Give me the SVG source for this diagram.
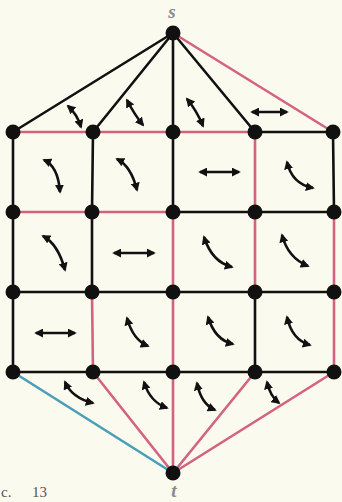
<svg xmlns="http://www.w3.org/2000/svg" width="342" height="502" viewBox="0 0 342 502">
<style>
.bk{stroke:#111;stroke-width:2.6;fill:none;stroke-linecap:round}
.pk{stroke:#d4637f;stroke-width:2.6;fill:none;stroke-linecap:round}
.bl{stroke:#4a9fb8;stroke-width:2.6;fill:none;stroke-linecap:round}
.ar{stroke:#111;stroke-width:2.6;fill:none;marker-start:url(#ah);marker-end:url(#ah)}
.nd{fill:#111}
.lb{font-family:"Liberation Serif",serif;font-style:italic;font-weight:bold;font-size:19px;fill:#8a8a8a;text-anchor:middle}
.cap{font-family:"Liberation Serif",serif;font-size:15px;fill:#555}
</style>
<defs>
<marker id="ah" viewBox="0 0 10 10" refX="8" refY="5" markerWidth="9" markerHeight="9" markerUnits="userSpaceOnUse" orient="auto-start-reverse">
<path d="M0,0 L10,5 L0,10 z" fill="#111"/>
</marker>
</defs>
<rect width="342" height="502" fill="#fafaee"/>
<g id="connectors">
<line class="bk" x1="173" y1="33" x2="13" y2="132"/>
<line class="bk" x1="173" y1="33" x2="93" y2="132"/>
<line class="bk" x1="173" y1="33" x2="173" y2="132"/>
<line class="bk" x1="173" y1="33" x2="255" y2="132"/>
<line class="pk" x1="173" y1="33" x2="333" y2="132"/>
<line class="pk" x1="13" y1="132" x2="93" y2="132"/>
<line class="pk" x1="93" y1="132" x2="173" y2="132"/>
<line class="pk" x1="173" y1="132" x2="255" y2="132"/>
<line class="bk" x1="255" y1="132" x2="333" y2="132"/>
<line class="pk" x1="13" y1="212" x2="92" y2="212"/>
<line class="pk" x1="92" y1="212" x2="173" y2="212"/>
<line class="bk" x1="173" y1="212" x2="255" y2="212"/>
<line class="bk" x1="255" y1="212" x2="334" y2="212"/>
<line class="bk" x1="13" y1="292" x2="92" y2="292"/>
<line class="bk" x1="92" y1="292" x2="173" y2="292"/>
<line class="bk" x1="173" y1="292" x2="255" y2="292"/>
<line class="bk" x1="255" y1="292" x2="334" y2="292"/>
<line class="bk" x1="13" y1="372" x2="93" y2="372"/>
<line class="bk" x1="93" y1="372" x2="173" y2="372"/>
<line class="bk" x1="173" y1="372" x2="255" y2="372"/>
<line class="bk" x1="255" y1="372" x2="334" y2="372"/>
<line class="bk" x1="13" y1="132" x2="13" y2="212"/>
<line class="bk" x1="13" y1="212" x2="13" y2="292"/>
<line class="bk" x1="13" y1="292" x2="13" y2="372"/>
<line class="bk" x1="93" y1="132" x2="92" y2="212"/>
<line class="bk" x1="92" y1="212" x2="92" y2="292"/>
<line class="pk" x1="92" y1="292" x2="93" y2="372"/>
<line class="bk" x1="173" y1="132" x2="173" y2="212"/>
<line class="pk" x1="173" y1="212" x2="173" y2="292"/>
<line class="pk" x1="173" y1="292" x2="173" y2="372"/>
<line class="pk" x1="255" y1="132" x2="255" y2="212"/>
<line class="pk" x1="255" y1="212" x2="255" y2="292"/>
<line class="bk" x1="255" y1="292" x2="255" y2="372"/>
<line class="bk" x1="333" y1="132" x2="334" y2="212"/>
<line class="pk" x1="334" y1="212" x2="334" y2="292"/>
<line class="pk" x1="334" y1="292" x2="334" y2="372"/>
<line class="bl" x1="13" y1="372" x2="173" y2="473"/>
<line class="pk" x1="93" y1="372" x2="173" y2="473"/>
<line class="pk" x1="173" y1="372" x2="173" y2="473"/>
<line class="pk" x1="255" y1="372" x2="173" y2="473"/>
<line class="pk" x1="334" y1="372" x2="173" y2="473"/>
</g>
<g id="arrows">
<path class="ar" d="M68,106 Q77,114 81,127"/>
<path class="ar" d="M127,100 Q134,114 143,125"/>
<path class="ar" d="M187,99 Q197,111 203,126"/>
<path class="ar" d="M252,112 L287,112"/>
<path class="ar" d="M44,160 Q58,166 60,192"/>
<path class="ar" d="M117,159 Q131,166 137,190"/>
<path class="ar" d="M200,172 L239,172"/>
<path class="ar" d="M287,162 Q292,184 313,188"/>
<path class="ar" d="M43,236 Q58,244 65,270"/>
<path class="ar" d="M114,253 L154,253"/>
<path class="ar" d="M204,237 Q212,262 232,267"/>
<path class="ar" d="M282,235 Q288,258 308,266"/>
<path class="ar" d="M36,333 L75,333"/>
<path class="ar" d="M127,318 Q133,340 148,346"/>
<path class="ar" d="M208,317 Q215,340 233,344"/>
<path class="ar" d="M287,317 Q292,340 310,345"/>
<path class="ar" d="M65,382 Q72,398 93,403"/>
<path class="ar" d="M144,382 Q150,402 167,408"/>
<path class="ar" d="M197,383 Q201,404 215,410"/>
<path class="ar" d="M267,382 Q270,396 279,403"/>
</g>
<g id="node-s"><circle class="nd" cx="173" cy="33" r="7.5"/><text class="lb" x="172" y="18">s</text></g>
<g id="node-t"><circle class="nd" cx="173" cy="473" r="7.5"/><text class="lb" x="174" y="497">t</text></g>
<g id="n-0-0"><circle class="nd" cx="13" cy="132" r="7.5"/></g>
<g id="n-0-1"><circle class="nd" cx="93" cy="132" r="7.5"/></g>
<g id="n-0-2"><circle class="nd" cx="173" cy="132" r="7.5"/></g>
<g id="n-0-3"><circle class="nd" cx="255" cy="132" r="7.5"/></g>
<g id="n-0-4"><circle class="nd" cx="333" cy="132" r="7.5"/></g>
<g id="n-1-0"><circle class="nd" cx="13" cy="212" r="7.5"/></g>
<g id="n-1-1"><circle class="nd" cx="92" cy="212" r="7.5"/></g>
<g id="n-1-2"><circle class="nd" cx="173" cy="212" r="7.5"/></g>
<g id="n-1-3"><circle class="nd" cx="255" cy="212" r="7.5"/></g>
<g id="n-1-4"><circle class="nd" cx="334" cy="212" r="7.5"/></g>
<g id="n-2-0"><circle class="nd" cx="13" cy="292" r="7.5"/></g>
<g id="n-2-1"><circle class="nd" cx="92" cy="292" r="7.5"/></g>
<g id="n-2-2"><circle class="nd" cx="173" cy="292" r="7.5"/></g>
<g id="n-2-3"><circle class="nd" cx="255" cy="292" r="7.5"/></g>
<g id="n-2-4"><circle class="nd" cx="334" cy="292" r="7.5"/></g>
<g id="n-3-0"><circle class="nd" cx="13" cy="372" r="7.5"/></g>
<g id="n-3-1"><circle class="nd" cx="93" cy="372" r="7.5"/></g>
<g id="n-3-2"><circle class="nd" cx="173" cy="372" r="7.5"/></g>
<g id="n-3-3"><circle class="nd" cx="255" cy="372" r="7.5"/></g>
<g id="n-3-4"><circle class="nd" cx="334" cy="372" r="7.5"/></g>
<text class="cap" x="1" y="497">с.<tspan x="32">13</tspan></text>
</svg>
